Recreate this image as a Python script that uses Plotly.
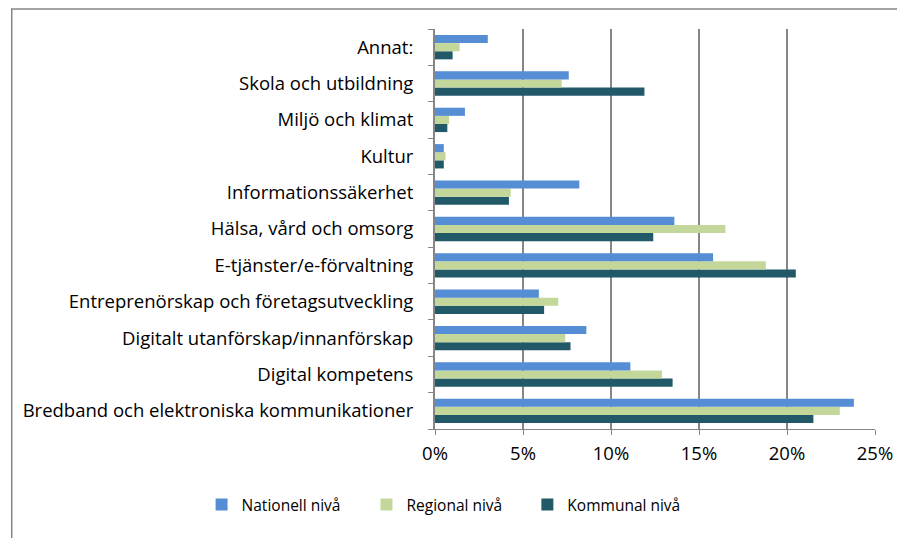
import plotly.graph_objects as go

# Categories bottom -> top (as drawn on the y axis)
categories = [
    'Bredband och elektroniska kommunikationer',
    'Digital kompetens',
    'Digitalt utanförskap/innanförskap',
    'Entreprenörskap och företagsutveckling',
    'E-tjänster/e-förvaltning',
    'Hälsa, vård och omsorg',
    'Informationssäkerhet',
    'Kultur',
    'Miljö och klimat',
    'Skola och utbildning',
    'Annat:',
]

# Shares in percent
nationell = [23.8, 11.1, 8.6, 5.9, 15.8, 13.6, 8.2, 0.5, 1.7, 7.6, 3.0]
regional = [23.0, 12.9, 7.4, 7.0, 18.8, 16.5, 4.3, 0.6, 0.8, 7.2, 1.4]
kommunal = [21.5, 13.5, 7.7, 6.2, 20.5, 12.4, 4.2, 0.5, 0.7, 11.9, 1.0]

x_ticks = [0, 5, 10, 15, 20, 25]

FONT = 'Open Sans, sans-serif'

fig = go.Figure()

# Kommunal first so it ends up at the bottom of each group;
# each series gets its own legend so the three entries sit on one row
fig.add_trace(go.Bar(y=categories, x=[v / 100 for v in kommunal], name='Kommunal nivå',
                     orientation='h', legend='legend3',
                     marker=dict(color='#215968', line=dict(width=0))))
fig.add_trace(go.Bar(y=categories, x=[v / 100 for v in regional], name='Regional nivå',
                     orientation='h', legend='legend2',
                     marker=dict(color='#c4d79b', line=dict(width=0))))
fig.add_trace(go.Bar(y=categories, x=[v / 100 for v in nationell], name='Nationell nivå',
                     orientation='h', legend='legend',
                     marker=dict(color='#558ed5', line=dict(width=0))))

leg = dict(orientation='h', y=-0.19, yanchor='middle', xanchor='left',
           font=dict(size=15.5, family=FONT), itemwidth=30, bgcolor='rgba(0,0,0,0)')

# page is offset 8px by the browser body margin, so the figure is 8px smaller
fig.update_layout(
    width=897, height=530,
    barmode='group', bargap=0.33, bargroupgap=0,
    plot_bgcolor='white', paper_bgcolor='white',
    margin=dict(l=427, r=27, t=21, b=109),
    font=dict(family=FONT, size=18.5, color='#000000'),
    showlegend=True,
    legend=dict(leg, x=(200 - 435) / 443),
    legend2=dict(leg, x=(366 - 435) / 443),
    legend3=dict(leg, x=(528 - 435) / 443),
)

fig.update_xaxes(
    range=[0, 0.25], tickvals=[t / 100 for t in x_ticks],
    ticktext=[f'{t}%' for t in x_ticks],
    showgrid=True, gridcolor='#868686', gridwidth=2,
    showline=True, linecolor='#868686', linewidth=1,
    ticks='outside', ticklen=5, tickcolor='#868686',
    zeroline=False, ticklabelstandoff=3,
)
fig.update_yaxes(
    showgrid=False, showline=True, linecolor='#868686', linewidth=2,
    ticks='outside', ticklen=5, tickcolor='#868686', tickson='boundaries',
    ticklabelstandoff=16,
)

# outer chart border
fig.add_shape(type='rect', xref='paper', yref='paper',
              x0=-0.962, x1=1.2, y0=-0.4, y1=1.05,
              line=dict(color='#868686', width=1.5), fillcolor='rgba(0,0,0,0)')

fig.write_html('out.html')
